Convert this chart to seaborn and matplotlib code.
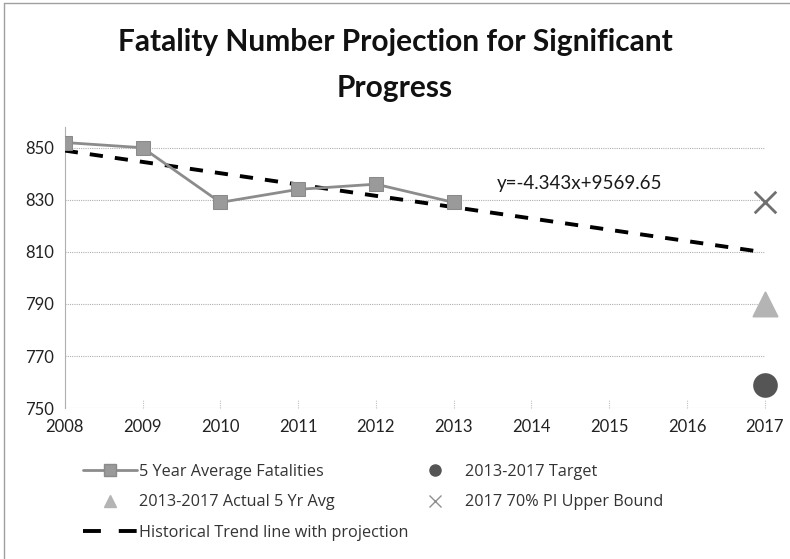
import numpy as np
import pandas as pd
import matplotlib
matplotlib.use('Agg')
import matplotlib.pyplot as plt
import seaborn as sns
from matplotlib.lines import Line2D

sns.set_theme(style='white')
plt.rcParams['font.family'] = ['Lato', 'DejaVu Sans']

# 数据
years = [2008, 2009, 2010, 2011, 2012, 2013]
avg_fatalities = [852, 850, 829, 834, 836, 829]
trend_years = [2008, 2017]
trend_values = [848.9, 809.8]
target_year = [2017]
target_value = [759]
actual_value = [790]
pi_upper_value = [829]
x_ticks = list(range(2008, 2018))
y_ticks = [750, 770, 790, 810, 830, 850]

df_avg = pd.DataFrame({'year': years, 'val': avg_fatalities})
df_trend = pd.DataFrame({'year': trend_years, 'val': trend_values})

fig = plt.figure(figsize=(7.9, 5.59), dpi=100)
ax = fig.add_axes([0.082, 0.270, 0.886, 0.503])

# 网格线
for y in y_ticks:
    ax.axhline(y, color='#b0b0b0', lw=0.8, ls=(0, (1, 1)), zorder=0)

sns.lineplot(data=df_trend, x='year', y='val', ax=ax, color='black', lw=2.8,
             dashes=False, linestyle=(0, (3.4, 3.1)), zorder=3)
sns.lineplot(data=df_avg, x='year', y='val', ax=ax, color='#8c8c8c', lw=2,
             marker='s', markersize=10.5, markerfacecolor='#9a9a9a',
             markeredgecolor='#8a8a8a', zorder=4)
sns.scatterplot(x=target_year, y=target_value, ax=ax, color='#555555', s=270,
                marker='o', edgecolor='#555555', zorder=5, clip_on=False)
sns.scatterplot(x=target_year, y=actual_value, ax=ax, color='#b4b4b4', s=300,
                marker='^', edgecolor='#b4b4b4', zorder=5, clip_on=False)
sns.scatterplot(x=target_year, y=pi_upper_value, ax=ax, color='#707070', s=240,
                marker='x', linewidth=2, zorder=5, clip_on=False)

ax.text(2013.55, 836.3, 'y=-4.343x+9569.65', fontsize=13.5, color='#1a1a1a',
        va='center', ha='left')

ax.set_xlim(2008, 2017)
ax.set_ylim(750, 858)
ax.set_xticks(x_ticks)
ax.set_yticks(y_ticks)
ax.set_xlabel('')
ax.set_ylabel('')
ax.tick_params(axis='both', labelsize=12, colors='#222222', length=0, pad=8)
for t in ax.get_xticks():
    ax.plot([t, t], [750, 753], color='#c0c0c0', lw=0.8, ls=(0, (1, 1)),
            clip_on=False, zorder=1)
for s in ['top', 'right', 'bottom']:
    ax.spines[s].set_visible(False)
ax.spines['left'].set_color('#b0b0b0')
ax.spines['left'].set_linestyle((0, (1, 1)))
ax.spines['left'].set_linewidth(0.8)

fig.text(0.5, 0.884, 'Fatality Number Projection for Significant\nProgress',
         ha='center', va='center', fontsize=21.5, fontweight='bold',
         color='#111111', linespacing=1.8)

# 图例
h_avg = Line2D([], [], color='#8c8c8c', lw=2, marker='s', markersize=8,
               markerfacecolor='#9a9a9a', markeredgecolor='#8a8a8a')
h_target = Line2D([], [], ls='', marker='o', markersize=8, color='#555555')
h_actual = Line2D([], [], ls='', marker='^', markersize=8, color='#b4b4b4')
h_pi = Line2D([], [], ls='', marker='x', markersize=8, color='#909090', mew=1)
h_trend = Line2D([], [], color='black', lw=2.8, ls=(0, (4.6, 4.6)))
handles = [h_avg, h_actual, h_trend, h_target, h_pi]
labels = ['5 Year Average Fatalities', '2013-2017 Actual 5 Yr Avg',
          'Historical Trend line with projection', '2013-2017 Target',
          '2017 70% PI Upper Bound']
leg = fig.legend(handles, labels, ncol=2, loc='upper left',
                 bbox_to_anchor=(0.105, 0.170), frameon=False,
                 prop={'family': ['Open Sans', 'DejaVu Sans'], 'size': 11.7},
                 labelcolor='#333333', handlelength=3.3, handletextpad=0.15,
                 columnspacing=0.0, labelspacing=0.88, borderpad=0,
                 borderaxespad=0)

# 外框
fig.add_artist(Line2D([0.005, 0.005], [0, 0.995], transform=fig.transFigure,
                      color='#a0a0a0', lw=1))
fig.add_artist(Line2D([0.005, 1], [0.995, 0.995], transform=fig.transFigure,
                      color='#a0a0a0', lw=1))

fig.savefig('out.png', dpi=100)
